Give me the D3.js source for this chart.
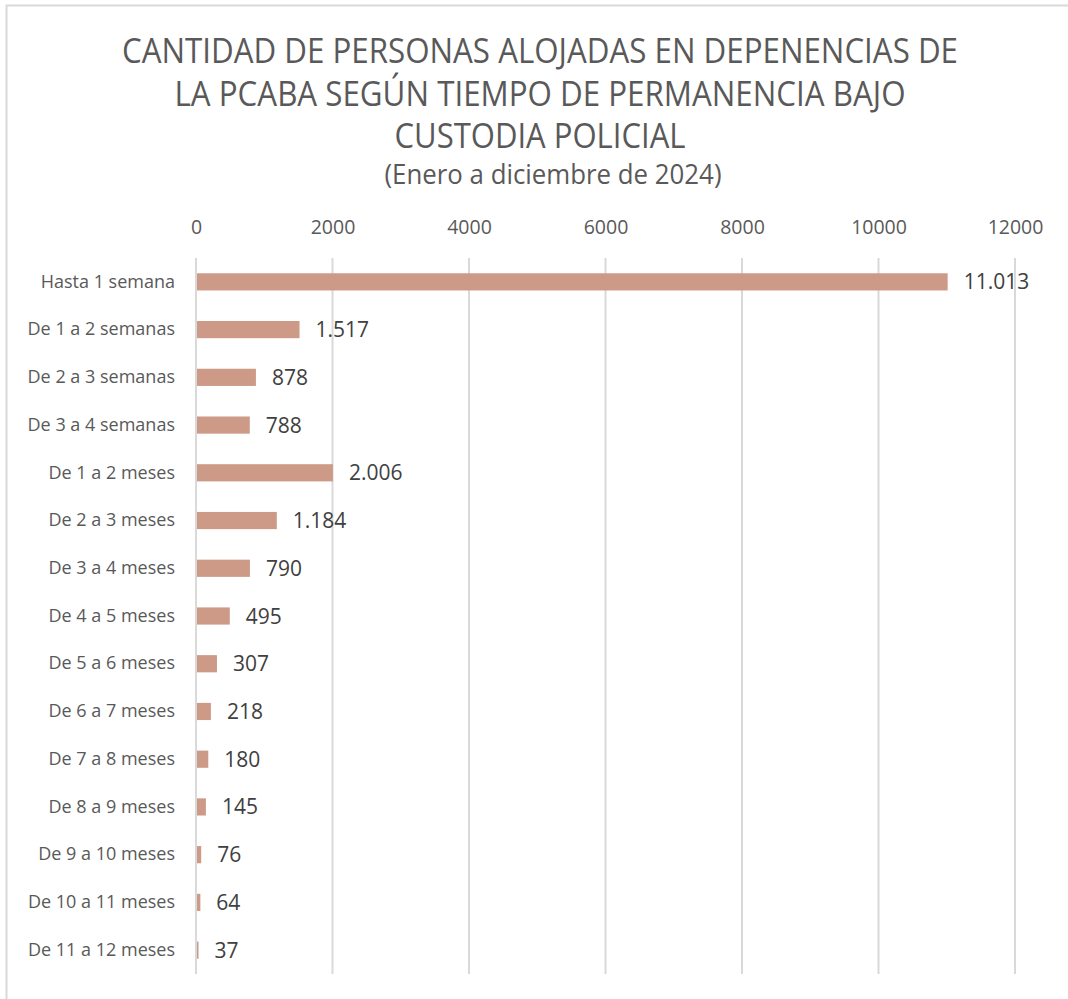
<!DOCTYPE html>
<html>
<head>
<meta charset="utf-8">
<script src="https://cdn.jsdelivr.net/npm/d3@7"></script>
<style>
  body { margin: 0; background: #fff; }
  svg { display: block; font-family: "Open Sans", "Noto Sans", sans-serif; }
</style>
</head>
<body>
<script>
var categories = ["Hasta 1 semana", "De 1 a 2 semanas", "De 2 a 3 semanas", "De 3 a 4 semanas",
  "De 1 a 2 meses", "De 2 a 3 meses", "De 3 a 4 meses", "De 4 a 5 meses", "De 5 a 6 meses",
  "De 6 a 7 meses", "De 7 a 8 meses", "De 8 a 9 meses", "De 9 a 10 meses", "De 10 a 11 meses",
  "De 11 a 12 meses"];
var values = [11013, 1517, 878, 788, 2006, 1184, 790, 495, 307, 218, 180, 145, 76, 64, 37];
var ticks = [0, 2000, 4000, 6000, 8000, 10000, 12000];
var titleLines = ["CANTIDAD DE PERSONAS ALOJADAS EN DEPENENCIAS DE",
  "LA PCABA SEGÚN TIEMPO DE PERMANENCIA BAJO", "CUSTODIA POLICIAL"];
var subtitle = "(Enero a diciembre de 2024)";

var width = 1068;
var height = 999;
var textColor = "#595959";

var svg = d3.select("body").append("svg")
    .attr("width", width)
    .attr("height", height);

// chart frame (only top/left visible in the picture)
svg.append("rect")
    .attr("x", 6.5).attr("y", 5.5)
    .attr("width", 1100).attr("height", 1100)
    .style("fill", "#fff")
    .style("stroke", "#d9d9d9")
    .style("stroke-width", 2);

// title
var titleWidths = [836, 731, 291];
svg.selectAll(".title")
    .data(titleLines)
  .enter().append("text")
    .attr("class", "title")
    .attr("x", 540)
    .attr("y", function (d, i) { return 63 + i * 42.5; })
    .attr("text-anchor", "middle")
    .attr("textLength", function (d, i) { return titleWidths[i]; })
    .attr("lengthAdjust", "spacingAndGlyphs")
    .style("font-size", "35px")
    .style("fill", textColor)
    .text(function (d) { return d; });

svg.append("text")
    .attr("x", 553)
    .attr("y", 184)
    .attr("text-anchor", "middle")
    .attr("textLength", 337)
    .attr("lengthAdjust", "spacingAndGlyphs")
    .style("font-size", "28px")
    .style("fill", textColor)
    .text(subtitle);

var x = d3.scaleLinear().domain([0, 12000]).range([196, 1015]);
var y = d3.scaleBand().domain(categories).range([258, 974]).paddingInner(0.64).paddingOuter(0.32);

// gridlines
svg.append("g")
  .selectAll("line")
    .data(ticks)
  .enter().append("line")
    .attr("x1", function (d) { return x(d); })
    .attr("x2", function (d) { return x(d); })
    .attr("y1", 258)
    .attr("y2", 974)
    .style("stroke", "#d9d9d9")
    .style("stroke-width", 2);

// top axis
var axis = svg.append("g")
    .attr("transform", "translate(0,258)")
    .call(d3.axisTop(x).tickValues(ticks).tickSize(0).tickPadding(24).tickFormat(d3.format("d")));
axis.select(".domain").remove();
axis.selectAll("text")
    .style("font-family", "'Open Sans', sans-serif")
    .style("font-size", "19.5px")
    .style("fill", textColor);

// category axis
var yAxis = svg.append("g")
    .attr("transform", "translate(196,0)")
    .call(d3.axisLeft(y).tickSize(0).tickPadding(21));
yAxis.select(".domain").remove();
yAxis.selectAll("text")
    .style("font-family", "'Open Sans', sans-serif")
    .style("font-size", "18px")
    .style("fill", textColor);

// bars
svg.selectAll(".bar")
    .data(values)
  .enter().append("rect")
    .attr("class", "bar")
    .attr("x", x(0) + 1)
    .attr("y", function (d, i) { return y(categories[i]); })
    .attr("width", function (d) { return Math.max(x(d) - x(0) - 1, 0); })
    .attr("height", y.bandwidth())
    .style("fill", "#cc9a87");

var fmt = d3.formatLocale({ decimal: ",", thousands: ".", grouping: [3], currency: ["$", ""] }).format(",d");

svg.selectAll(".val")
    .data(values)
  .enter().append("text")
    .attr("class", "val")
    .attr("x", function (d) { return x(d) + 16; })
    .attr("y", function (d, i) { return y(categories[i]) + y.bandwidth() / 2; })
    .attr("dy", "0.36em")
    .style("font-size", "21px")
    .style("fill", "#404040")
    .text(function (d) { return fmt(d); });
</script>
</body>
</html>
